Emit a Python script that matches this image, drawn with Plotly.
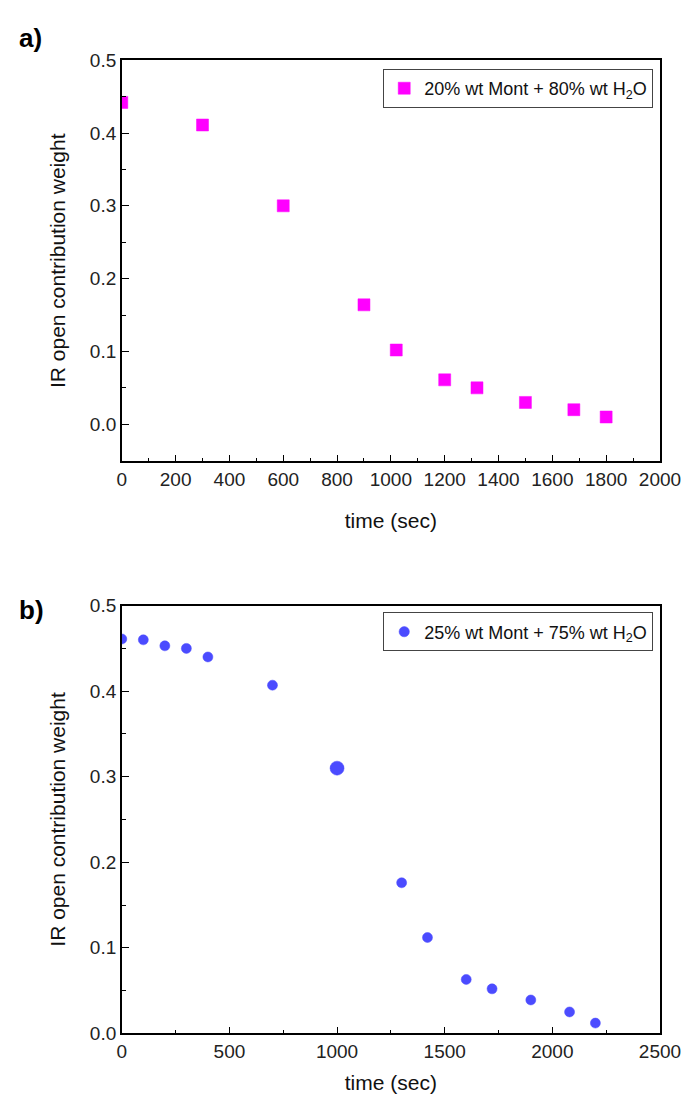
import plotly.graph_objects as go

# Panel a data
time_a = [0, 300, 600, 900, 1020, 1200, 1320, 1500, 1680, 1800]
weight_a = [0.442, 0.411, 0.300, 0.164, 0.102, 0.061, 0.050, 0.030, 0.020, 0.010]
name_a = "20% wt Mont + 80% wt H<sub>2</sub>O"

# Panel b data
time_b = [0, 100, 200, 300, 400, 700, 1000, 1300, 1420, 1600, 1720, 1900, 2080, 2200]
weight_b = [0.461, 0.460, 0.453, 0.450, 0.440, 0.407, 0.310, 0.176, 0.112, 0.063, 0.052, 0.039, 0.025, 0.012]
size_b = [10, 10, 10, 10, 10, 10, 14, 10, 10, 10, 10, 10, 10, 10]
name_b = "25% wt Mont + 75% wt H<sub>2</sub>O"

W, H = 698, 1105
FONT = "Liberation Sans, Arial, sans-serif"

fig = go.Figure()
fig.add_trace(go.Scatter(x=time_a, y=weight_a, mode="markers", name=name_a,
                         showlegend=True, opacity=1,
                         marker=dict(symbol="square", size=12, color="#FF00FF",
                                     line=dict(width=0.5, color="#FF00FF")),
                         xaxis="x", yaxis="y", legend="legend"))
fig.add_trace(go.Scatter(x=time_b, y=weight_b, mode="markers", name=name_b,
                         showlegend=True, opacity=1,
                         marker=dict(symbol="circle", size=size_b, color="#0000FF",
                                     line=dict(width=0.5, color="#0000FF")),
                         xaxis="x2", yaxis="y2", legend="legend2"))

xd = [113 / W, 672 / W]
ya = [1 - 452 / H, 1 - 43 / H]
yb = [1 - 1035 / H, 1 - 599 / H]

common = dict(showline=True, linecolor="black", linewidth=1.5, mirror=True,
              ticks="inside", ticklen=7, tickwidth=1.2, tickcolor="black",
              showgrid=False, zeroline=False,
              tickfont=dict(family=FONT, size=19, color="#222"),
              title_font=dict(family=FONT, size=21, color="#111"))

leg = dict(xanchor="right", yanchor="top", bordercolor="#444", borderwidth=1,
           bgcolor="white", font=dict(family=FONT, size=18, color="#111"),
           itemwidth=30, tracegroupgap=0)

fig.update_layout(
    width=W, height=H, margin=dict(l=0, r=0, t=0, b=0),
    paper_bgcolor="white", plot_bgcolor="white", showlegend=True,
    font=dict(family=FONT, color="#111"),
    xaxis=dict(domain=xd, anchor="y", range=[0, 2000], dtick=200,
               minor=dict(dtick=100, ticks="inside", ticklen=4, tickcolor="black"),
               title=dict(text="time (sec)", standoff=24), **common),
    yaxis=dict(domain=ya, anchor="x", range=[-0.051, 0.5], dtick=0.1, tickformat=".1f",
               minor=dict(dtick=0.05, ticks="inside", ticklen=4, tickcolor="black"),
               title=dict(text="IR open contribution weight", standoff=18), **common),
    xaxis2=dict(domain=xd, anchor="y2", range=[0, 2500], dtick=500,
                minor=dict(dtick=250, ticks="inside", ticklen=4, tickcolor="black"),
                title=dict(text="time (sec)", standoff=14), **common),
    yaxis2=dict(domain=yb, anchor="x2", range=[0, 0.5], dtick=0.1, tickformat=".1f",
                minor=dict(dtick=0.05, ticks="inside", ticklen=4, tickcolor="black"),
                title=dict(text="IR open contribution weight", standoff=18), **common),
    legend=dict(x=665 / W, y=1 - 52 / H, **leg),
    legend2=dict(x=665 / W, y=1 - 606 / H, **leg),
    annotations=[
        dict(text="<b>a)</b>", x=4 / W, y=1 - 20 / H, xref="paper", yref="paper",
             xanchor="left", yanchor="middle", showarrow=False,
             font=dict(family=FONT, size=26, color="black")),
        dict(text="<b>b)</b>", x=4 / W, y=1 - 603 / H, xref="paper", yref="paper",
             xanchor="left", yanchor="middle", showarrow=False,
             font=dict(family=FONT, size=26, color="black")),
    ],
)

fig.write_html("out.html")
